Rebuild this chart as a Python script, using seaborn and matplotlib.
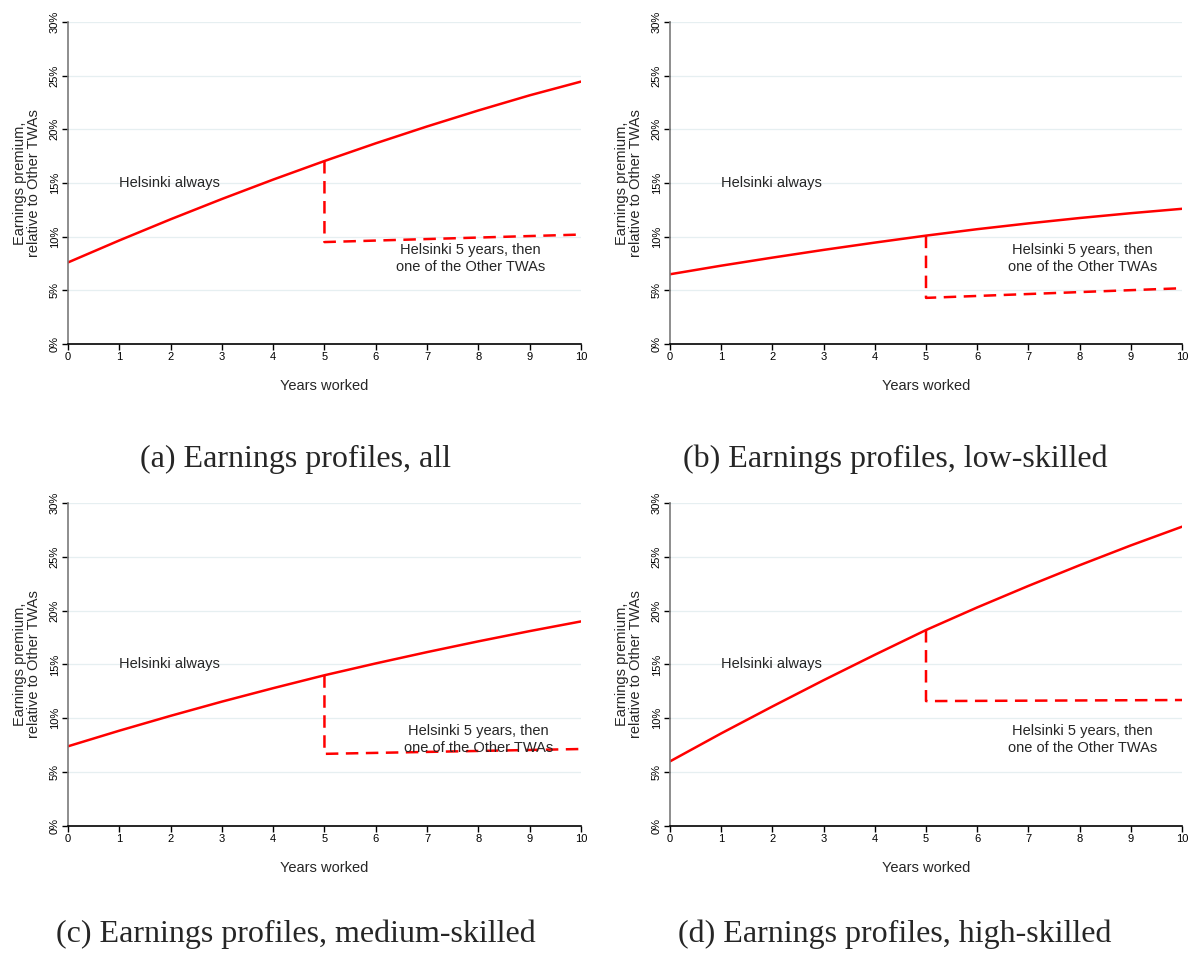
import numpy as np
import pandas as pd
import matplotlib
matplotlib.use("Agg")
import matplotlib.pyplot as plt
import seaborn as sns
from matplotlib.ticker import FuncFormatter

years = [0, 1, 2, 3, 4, 5, 6, 7, 8, 9, 10]

# Earnings premium (%) for staying in Helsinki throughout
always_all = [7.6, 9.65, 11.62, 13.51, 15.32, 17.05, 18.70, 20.27, 21.76, 23.17, 24.45]
always_low = [6.5, 7.3, 8.05, 8.77, 9.45, 10.1, 10.7, 11.24, 11.74, 12.19, 12.6]
always_med = [7.4, 8.85, 10.23, 11.55, 12.8, 14.0, 15.1, 16.15, 17.15, 18.1, 19.0]
always_high = [6.0, 8.6, 11.1, 13.54, 15.9, 18.2, 20.3, 22.3, 24.22, 26.06, 27.8]

# Helsinki 5 years, then moving: premium right after the move and at year 10
moved_all = [9.5, 10.2]
moved_low = [4.3, 5.2]
moved_med = [6.7, 7.15]
moved_high = [11.6, 11.7]

captions = [
    "(a) Earnings profiles, all",
    "(b) Earnings profiles, low-skilled",
    "(c) Earnings profiles, medium-skilled",
    "(d) Earnings profiles, high-skilled",
]

panels = [
    (always_all, moved_all),
    (always_low, moved_low),
    (always_med, moved_med),
    (always_high, moved_high),
]

sns.set_theme(style="white")
plt.rcParams["font.family"] = ["Liberation Sans", "DejaVu Sans"]

fig = plt.figure(figsize=(11.9, 9.57), dpi=100)

axes_pos = [
    (0.0571, 0.6405, 0.4311, 0.3365),
    (0.5630, 0.6405, 0.4303, 0.3365),
    (0.0571, 0.1369, 0.4311, 0.3375),
    (0.5630, 0.1369, 0.4303, 0.3375),
]
caption_xy = [(0.2487, 0.512), (0.752, 0.512), (0.2487, 0.0157), (0.752, 0.0157)]
mover_label_x = [7.85, 8.05, 8.0, 8.05]

red = "#ff0000"
pct = FuncFormatter(lambda v, p: f"{v:.0f}%")

for i, ((always, moved), pos) in enumerate(zip(panels, axes_pos)):
    ax = fig.add_axes(pos)
    df_always = pd.DataFrame({"year": years, "premium": always})
    x_move = [years[5], years[5], years[-1]]
    y_move = [always[5], moved[0], moved[1]]
    df_move = pd.DataFrame({"year": x_move, "premium": y_move})

    sns.lineplot(data=df_always, x="year", y="premium", ax=ax,
                 color=red, linewidth=1.8, sort=False, estimator=None)
    sns.lineplot(data=df_move, x="year", y="premium", ax=ax,
                 color=red, linewidth=1.8, sort=False, estimator=None,
                 linestyle=(0, (5, 3)))

    ax.set_xlim(0, 10)
    ax.set_ylim(0, 30)
    ax.set_xticks(range(0, 11))
    ax.set_yticks(range(0, 31, 5))
    ax.yaxis.set_major_formatter(pct)
    ax.grid(axis="y", color="#e6eff1", linewidth=0.9)
    ax.grid(axis="x", visible=False)
    ax.set_axisbelow(True)

    for s in ["top", "right"]:
        ax.spines[s].set_visible(False)
    ax.spines["left"].set_color("#7a7a7a")
    ax.spines["left"].set_linewidth(1.2)
    ax.spines["bottom"].set_color("#000000")
    ax.spines["bottom"].set_linewidth(1.2)

    ax.tick_params(axis="both", which="major", direction="out", length=4,
                   width=1, labelsize=8, colors="#000000", pad=2,
                   bottom=True, left=True)
    for lab in ax.get_yticklabels():
        lab.set_rotation(90)
        lab.set_va("center")

    ax.set_xlabel("Years worked", fontsize=10.5, labelpad=12)
    ax.set_ylabel("Earnings premium,\nrelative to Other TWAs", fontsize=10.5,
                  labelpad=6, linespacing=1.0)

    ax.text(1.0, 15.0, "Helsinki always", fontsize=10.5, ha="left", va="center")
    ax.text(mover_label_x[i], 8.0, "Helsinki 5 years, then\none of the Other TWAs",
            fontsize=10.5, ha="center", va="center", linespacing=1.25)

    cx, cy = caption_xy[i]
    fig.text(cx, cy, captions[i], fontsize=23, ha="center", va="baseline",
             family=["Liberation Serif", "DejaVu Serif"])

fig.savefig("out.png", dpi=100)
